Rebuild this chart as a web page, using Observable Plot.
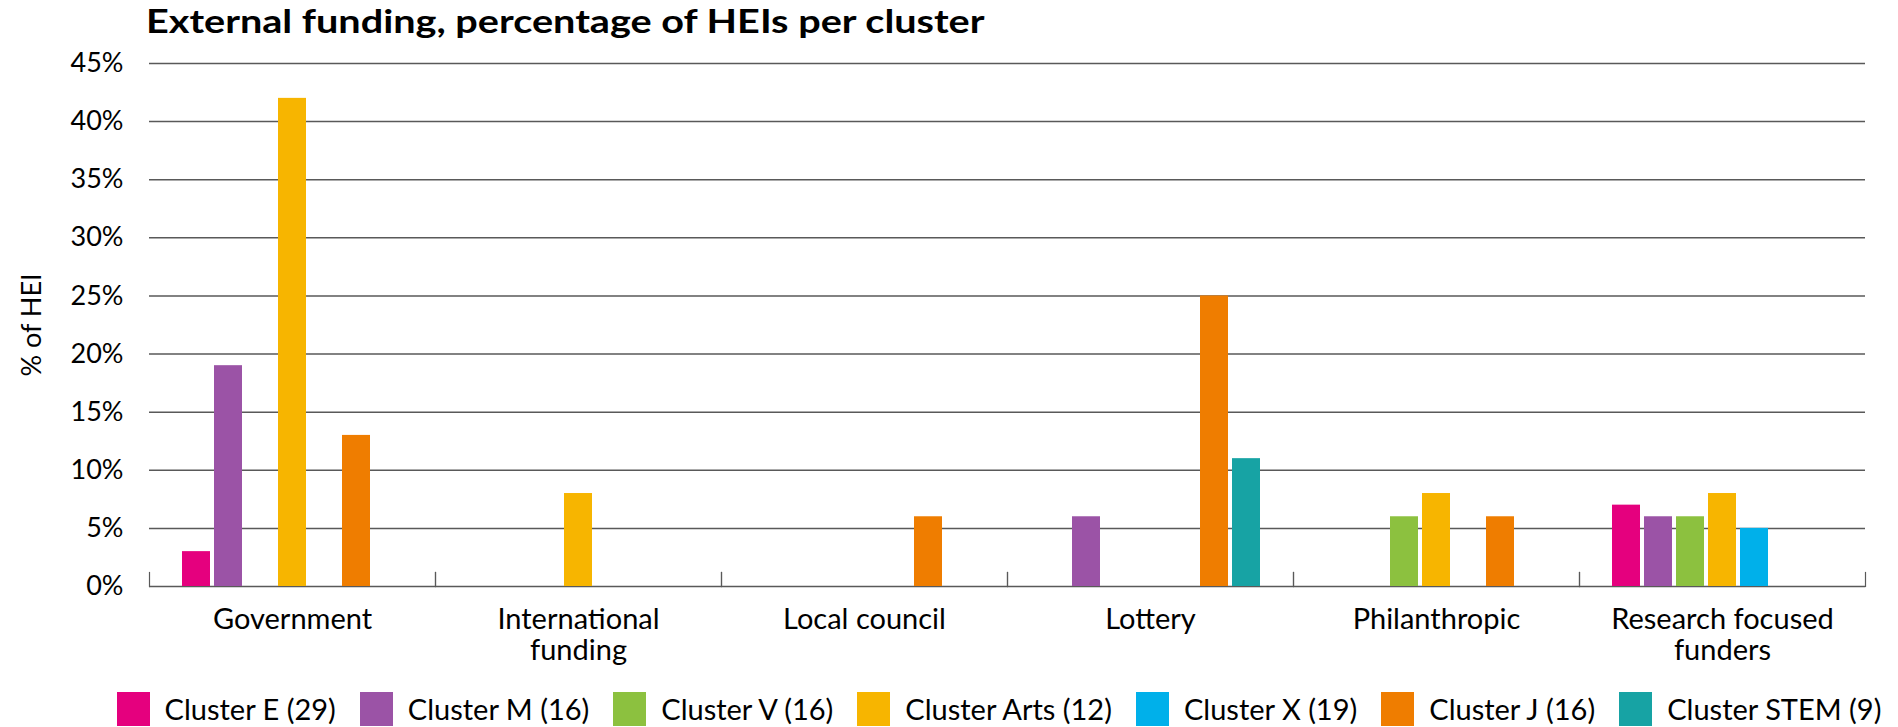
<!DOCTYPE html>
<html>
<head>
<meta charset="utf-8">
<script src="https://cdn.jsdelivr.net/npm/d3@7"></script>
<script src="https://cdn.jsdelivr.net/npm/@observablehq/plot@0.6"></script>
<style>
  html, body { margin: 0; padding: 0; background: #fff; }
  body { width: 1898px; height: 727px; overflow: hidden; font-family: Lato, sans-serif; color: #000; }
  #title { height: 40px; line-height: 40px; font-weight: bold; font-size: 33px; white-space: nowrap; }
  #title span { display: inline-block; margin-left: 146px; transform: scaleX(1.2); transform-origin: left center; }
  #chart svg { display: block; }
  #legend { display: flex; justify-content: center; padding-left: 100px; margin-top: 6px; align-items: center; }
  .item { display: flex; align-items: center; margin: 0 12px; }
  .sw { width: 33px; height: 34px; margin-right: 15px; }
  .lab { font-size: 29px; white-space: nowrap; }
</style>
</head>
<body>
<div id="title"><span>External funding, percentage of HEIs per cluster</span></div>
<div id="chart"></div>
<div id="legend"></div>
<script>
// ---- data ----
const groups = ["Government", "International funding", "Local council", "Lottery", "Philanthropic", "Research focused funders"];
const groupLabels = ["Government", "International\nfunding", "Local council", "Lottery", "Philanthropic", "Research focused\nfunders"];
const series = ["Cluster E (29)", "Cluster M (16)", "Cluster V (16)", "Cluster Arts (12)", "Cluster X (19)", "Cluster J (16)", "Cluster STEM (9)"];
const colors = ["#e5007e", "#9b53a6", "#8cc13f", "#f7b500", "#00b0ea", "#ef7d00", "#17a3a4"];
const clusterE    = [3, 0, 0, 0, 0, 7];
const clusterM    = [19, 0, 0, 6, 0, 6];
const clusterV    = [0, 0, 0, 0, 6, 6];
const clusterArts = [42, 8, 0, 0, 8, 8];
const clusterX    = [0, 0, 0, 0, 0, 5];
const clusterJ    = [13, 0, 6, 25, 6, 0];
const clusterSTEM = [0, 0, 0, 11, 0, 0];
const yTicks = [0, 5, 10, 15, 20, 25, 30, 35, 40, 45];

const valuesBySeries = [clusterE, clusterM, clusterV, clusterArts, clusterX, clusterJ, clusterSTEM];
const data = [];
series.forEach((s, si) => groups.forEach((g, gi) => {
  const v = valuesBySeries[si][gi];
  if (v > 0) data.push({group: g, series: s, value: v});
}));

const W = 1898, H = 645, mT = 23, mB = 99, mL = 148, mR = 32;
const grid = "#595959";

const chart = Plot.plot({
  width: W, height: H,
  marginLeft: mL, marginRight: mR, marginTop: mT, marginBottom: mB,
  style: {fontFamily: "Lato, sans-serif", fontSize: "27px", color: "#000", background: "#fff"},
  fx: {domain: groups, padding: 0},
  x: {domain: series, paddingInner: 0.12, paddingOuter: 0.93},
  y: {domain: [0, 45]},
  color: {domain: series, range: colors},
  marks: [
    Plot.ruleY(yTicks, {stroke: grid, strokeWidth: 1.5}),
    Plot.frame({anchor: "left", stroke: grid, strokeWidth: 1.2, insetTop: H - mT - mB - 14}),
    Plot.frame({anchor: "right", stroke: grid, strokeWidth: 1.2, insetTop: H - mT - mB - 14}),
    Plot.barY(data, {fx: "group", x: "series", y: "value", fill: "series"}),
    Plot.axisY({ticks: yTicks, tickFormat: d => d + "%", tickSize: 0, tickPadding: 26, fontSize: 27,
      label: "% of HEI", labelAnchor: "center", labelOffset: 128, labelArrow: "none"}),
    Plot.axisFx({anchor: "bottom", tickFormat: g => groupLabels[groups.indexOf(g)], tickSize: 0, tickPadding: 20,
      fontSize: 29, lineHeight: 1.08, label: null}),
    Plot.axisX({ticks: [], label: null, tickSize: 0})
  ]
});
document.getElementById("chart").appendChild(chart);

const legend = document.getElementById("legend");
series.forEach((s, i) => {
  const item = document.createElement("div");
  item.className = "item";
  const sw = document.createElement("div");
  sw.className = "sw";
  sw.style.background = colors[i];
  const lab = document.createElement("span");
  lab.className = "lab";
  lab.textContent = s;
  item.appendChild(sw);
  item.appendChild(lab);
  legend.appendChild(item);
});
</script>
</body>
</html>
